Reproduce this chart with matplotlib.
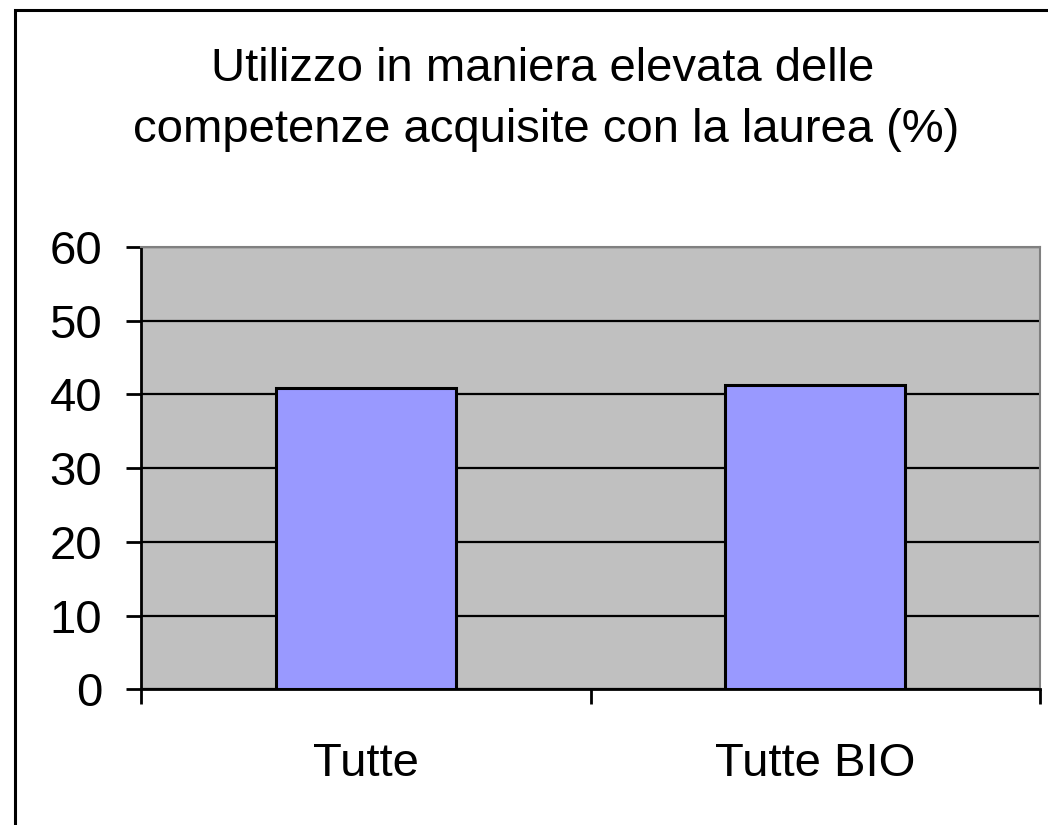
import matplotlib.pyplot as plt
from matplotlib.patches import Rectangle

plt.rcParams['font.family'] = ['Liberation Sans', 'DejaVu Sans']

categories = ['Tutte', 'Tutte BIO']
values = [40.8, 41.2]
yticks = [0, 10, 20, 30, 40, 50, 60]
title_lines = ['Utilizzo in maniera elevata delle',
               'competenze acquisite con la laurea (%)']

fig = plt.figure(figsize=(10.48, 8.25), dpi=100)

# outer chart frame (right and bottom edges are cut off in the original)
fig.patches.append(Rectangle((15 / 1048, -0.2), 1.2, 1.2 - 10 / 825,
                             transform=fig.transFigure, fill=False,
                             edgecolor='black', linewidth=2.2))

ax = fig.add_axes([141 / 1048, 1 - 689.3 / 825, 899 / 1048, 442.5 / 825])
ax.set_facecolor('#C0C0C0')

x = range(len(categories))
ax.bar(x, values, width=0.4, color='#9999FF', edgecolor='black',
       linewidth=2.2, zorder=3)

ax.set_xlim(-0.5, len(categories) - 0.5)
ax.set_ylim(0, 60)
ax.set_yticks(yticks)
ax.yaxis.grid(True, color='black', linewidth=1.6, zorder=1)
ax.set_axisbelow(True)

# ticks between categories, labels centred under the bars
ax.set_xticks([i - 0.5 for i in range(len(categories) + 1)])
ax.set_xticklabels([])
ax.set_xticks(list(x), minor=True)
ax.set_xticklabels(categories, minor=True)
ax.tick_params(axis='x', which='major', direction='out', length=11,
               width=2, color='black')
ax.tick_params(axis='x', which='minor', length=0, pad=38, labelsize=34)
ax.tick_params(axis='y', direction='out', length=11, width=2,
               pad=17, labelsize=34)

for s in ['left', 'bottom']:
    ax.spines[s].set_linewidth(2)
    ax.spines[s].set_color('black')
for s in ['top', 'right']:
    ax.spines[s].set_linewidth(1.5)
    ax.spines[s].set_color('#808080')

fig.text(543 / 1048, 1 - 81 / 825, title_lines[0], ha='center',
         va='baseline', fontsize=34)
fig.text(546 / 1048, 1 - 142 / 825, title_lines[1], ha='center',
         va='baseline', fontsize=34)

fig.savefig('out.png', dpi=100)
